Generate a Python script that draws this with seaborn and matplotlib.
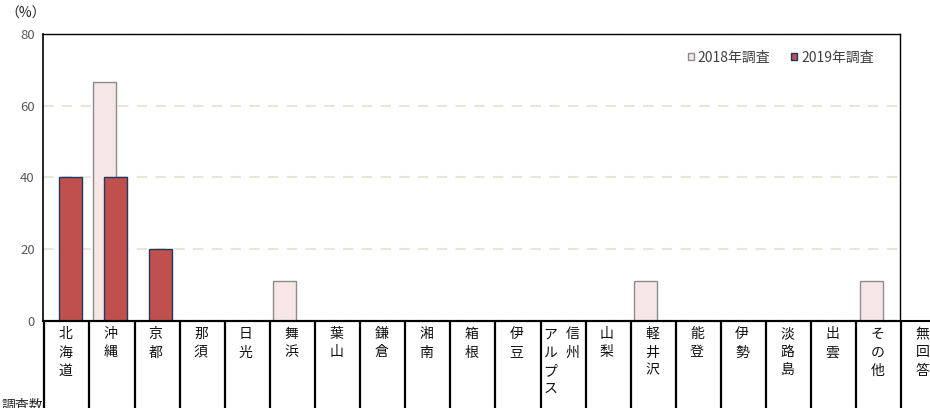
import numpy as np
import pandas as pd
import matplotlib
matplotlib.use("Agg")
import matplotlib.pyplot as plt
import matplotlib.transforms as mtransforms
from matplotlib.patches import Patch
import seaborn as sns

# データ (%)
categories = ["北海道", "沖縄", "京都", "那須", "日光", "舞浜", "葉山", "鎌倉", "湘南", "箱根",
              "伊豆", "信州アルプス", "山梨", "軽井沢", "能登", "伊勢", "淡路島", "出雲", "その他", "無回答"]
pct_2018 = [0, 66.7, 0, 0, 0, 11.1, 0, 0, 0, 0, 0, 0, 0, 11.1, 0, 0, 0, 0, 11.1, 0]
pct_2019 = [40, 40, 20, 0, 0, 0, 0, 0, 0, 0, 0, 0, 0, 0, 0, 0, 0, 0, 0, 0]
series = ["2018年調査", "2019年調査"]
y_ticks = [0, 20, 40, 60, 80]

sns.set_style("white")
plt.rcParams['font.family'] = ['Noto Sans CJK JP', 'DejaVu Sans']

df = pd.DataFrame({"cat": categories, "y2018": pct_2018, "y2019": pct_2019})

fig = plt.figure(figsize=(9.3, 4.08), dpi=100)
ax = fig.add_axes([43 / 930, 87 / 408, 857 / 930, 287 / 408])

# 2018年 (奥) と 2019年 (手前) を少しずらして重ねる
sns.barplot(data=df, x="cat", y="y2018", order=categories, width=0.51, color="#F6E6E6",
            edgecolor="#8C8C8C", linewidth=1.0, saturation=1, errorbar=None, ax=ax)
n1 = len(ax.patches)
for p in ax.patches:
    p.set_x(p.get_x() - 0.14)
    if p.get_height() == 0:
        p.set_visible(False)

sns.barplot(data=df, x="cat", y="y2019", order=categories, width=0.51, color="#C0504D",
            edgecolor="#1F3864", linewidth=1.0, saturation=1, errorbar=None, ax=ax)
for p in ax.patches[n1:]:
    p.set_x(p.get_x() + 0.11)
    if p.get_height() == 0:
        p.set_visible(False)

n_plot = len(categories) - 1
ax.set_xlim(-0.5, n_plot - 0.5)
ax.set_ylim(0, 80)
ax.set_xlabel("")
ax.set_ylabel("")

ax.set_yticks(y_ticks)
ax.set_yticklabels([str(v) for v in y_ticks], color="#595959", fontsize=9.5)
ax.tick_params(axis="y", length=0, pad=6)
ax.yaxis.grid(True, linestyle=(0, (5, 4)), color="#E8E6D8", linewidth=1.5)
ax.set_axisbelow(True)

ax.set_xticks(np.arange(-0.5, n_plot, 1))
ax.set_xticklabels([])
ax.tick_params(axis="x", direction="in", length=4, width=1, color="black")

for side in ["top", "right", "left", "bottom"]:
    ax.spines[side].set_visible(True)
    ax.spines[side].set_color("black")
ax.spines["top"].set_linewidth(1.0)
ax.spines["right"].set_linewidth(1.0)
ax.spines["left"].set_linewidth(1.2)
ax.spines["bottom"].set_linewidth(1.5)

# 下の表
trans = mtransforms.blended_transform_factory(ax.transData, ax.transAxes)
ax.plot([-0.5, 20.0], [0, 0], transform=trans, color="black", lw=1.5, clip_on=False)
for b in np.arange(-0.5, len(categories) + 0.5, 1):
    ax.plot([b + 0.03, b + 0.03], [-0.005, -0.33], transform=trans, color="black",
            lw=1.6, clip_on=False, solid_capstyle="butt")

label_kw = dict(transform=trans, ha="center", va="top", fontsize=10, linespacing=1.38,
                clip_on=False, color="#111111")
for i, lab in enumerate(categories):
    if lab == "信州アルプス":
        ax.text(i + 0.25, -0.022, "\n".join("信州"), **label_kw)
        ax.text(i - 0.25, -0.022, "\n".join("アルプス"), **label_kw)
    else:
        ax.text(i, -0.022, "\n".join(lab), **label_kw)

fig.text(0.006, 0.983, "（%）", fontsize=10, va="top", ha="left", color="#222222")
fig.text(0.046, 0.024, "調査数", fontsize=10, va="top", ha="right")

handles = [Patch(facecolor="#F6E6E6", edgecolor="#8C8C8C", linewidth=1.0),
           Patch(facecolor="#C0504D", edgecolor="#1F3864", linewidth=1.0)]
ax.legend(handles, series, loc="upper right", bbox_to_anchor=(0.984, 0.985), ncol=2,
          frameon=False, handlelength=0.42, handleheight=0.42, handletextpad=0.3,
          columnspacing=1.5, fontsize=10, labelcolor="#404040")

fig.savefig("out.png", dpi=100)
